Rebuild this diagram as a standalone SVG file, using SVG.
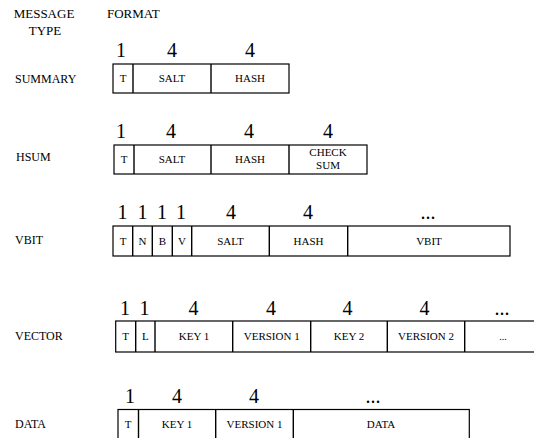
<svg xmlns="http://www.w3.org/2000/svg" width="534" height="438" viewBox="0 0 534 438" font-family="'Liberation Serif', 'Times New Roman', 'DejaVu Serif', serif">
<style>
text{font-family:'Liberation Serif','Times New Roman','DejaVu Serif',serif;fill:#000}
.hd{font-size:13px}
.lb{font-size:12px}
.n{font-size:20px;text-anchor:middle}
.c{font-size:11px;text-anchor:middle}
.s{font-size:10px;text-anchor:middle}
.b{fill:#fff;stroke:#000;stroke-width:1.2}
.d{stroke:#000;stroke-width:1.4}
</style>
<rect width="534" height="438" fill="#fff"/>
<g id="header">
<text class="hd" x="44" y="18" text-anchor="middle">MESSAGE</text>
<text class="hd" x="45" y="35" text-anchor="middle">TYPE</text>
<text class="hd" x="107" y="18">FORMAT</text>
</g>
<g id="summary">
<text class="lb" x="15" y="83">SUMMARY</text>
<text class="n" x="121" y="57">1</text><text class="n" x="172" y="57">4</text><text class="n" x="250" y="57">4</text>
<rect class="b" x="113" y="64" width="176" height="29"/>
<line class="d" x1="133" y1="64" x2="133" y2="93"/><line class="d" x1="211" y1="64" x2="211" y2="93"/>
<text class="c" x="123" y="82">T</text><text class="c" x="172" y="82">SALT</text><text class="c" x="250" y="82">HASH</text>
</g>
<g id="hsum">
<text class="lb" x="16" y="161">HSUM</text>
<text class="n" x="121" y="138">1</text><text class="n" x="171" y="138">4</text><text class="n" x="249" y="138">4</text><text class="n" x="328" y="138">4</text>
<rect class="b" x="114" y="145" width="253" height="29"/>
<line class="d" x1="134" y1="145" x2="134" y2="174"/><line class="d" x1="211" y1="145" x2="211" y2="174"/><line class="d" x1="289" y1="145" x2="289" y2="174"/>
<text class="c" x="124" y="163">T</text><text class="c" x="172" y="163">SALT</text><text class="c" x="250" y="163">HASH</text>
<text class="c" x="328" y="156">CHECK</text><text class="c" x="328" y="169">SUM</text>
</g>
<g id="vbit">
<text class="lb" x="15" y="244">VBIT</text>
<text class="n" x="122.5" y="219">1</text><text class="n" x="142.5" y="219">1</text><text class="n" x="162" y="219">1</text><text class="n" x="181" y="219">1</text>
<text class="n" x="231" y="219">4</text><text class="n" x="308" y="219">4</text><text class="n" x="428" y="219">...</text>
<rect class="b" x="113" y="226" width="397" height="30"/>
<line class="d" x1="132.7" y1="226" x2="132.7" y2="256"/><line class="d" x1="152.3" y1="226" x2="152.3" y2="256"/><line class="d" x1="172.3" y1="226" x2="172.3" y2="256"/><line class="d" x1="191.7" y1="226" x2="191.7" y2="256"/><line class="d" x1="269.3" y1="226" x2="269.3" y2="256"/><line class="d" x1="347.7" y1="226" x2="347.7" y2="256"/>
<text class="c" x="123" y="245">T</text><text class="c" x="142.5" y="245">N</text><text class="c" x="162.3" y="245">B</text><text class="c" x="182" y="245">V</text>
<text class="c" x="230.5" y="245">SALT</text><text class="c" x="308.5" y="245">HASH</text><text class="c" x="429" y="245">VBIT</text>
</g>
<g id="vector">
<text class="lb" x="15" y="340">VECTOR</text>
<text class="n" x="125" y="315">1</text><text class="n" x="144.5" y="315">1</text><text class="n" x="193.5" y="315">4</text><text class="n" x="271" y="315">4</text><text class="n" x="347.5" y="315">4</text><text class="n" x="424.5" y="315">4</text><text class="n" x="502" y="315">...</text>
<rect class="b" x="115.7" y="321" width="430" height="31"/>
<line class="d" x1="135.7" y1="321" x2="135.7" y2="352"/><line class="d" x1="155" y1="321" x2="155" y2="352"/><line class="d" x1="232.7" y1="321" x2="232.7" y2="352"/><line class="d" x1="310.7" y1="321" x2="310.7" y2="352"/><line class="d" x1="387.3" y1="321" x2="387.3" y2="352"/><line class="d" x1="464.7" y1="321" x2="464.7" y2="352"/>
<text class="c" x="125.7" y="340">T</text><text class="c" x="145.3" y="340">L</text><text class="c" x="194" y="340">KEY 1</text><text class="c" x="271.7" y="340">VERSION 1</text><text class="c" x="349" y="340">KEY 2</text><text class="c" x="426" y="340">VERSION 2</text><text class="s" x="503" y="340">...</text>
</g>
<g id="data">
<text class="lb" x="15" y="428">DATA</text>
<text class="n" x="130" y="403">1</text><text class="n" x="177" y="403">4</text><text class="n" x="254" y="403">4</text><text class="n" x="373" y="403">...</text>
<rect class="b" x="118" y="409.5" width="351.3" height="40"/>
<line class="d" x1="138.5" y1="409.5" x2="138.5" y2="440"/><line class="d" x1="215.7" y1="409.5" x2="215.7" y2="440"/><line class="d" x1="293.3" y1="409.5" x2="293.3" y2="440"/>
<text class="c" x="128" y="428">T</text><text class="c" x="177" y="428">KEY 1</text><text class="c" x="254.5" y="428">VERSION 1</text><text class="c" x="381" y="428">DATA</text>
</g>
<g id="connectors"/>
</svg>
